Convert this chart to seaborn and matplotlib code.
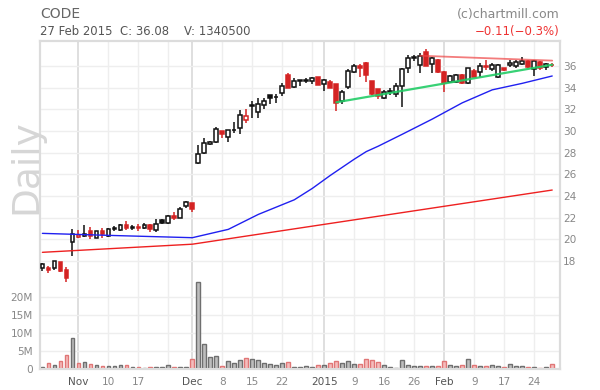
import numpy as np
import pandas as pd
import matplotlib
matplotlib.use("Agg")
import matplotlib.pyplot as plt
import seaborn as sns

# ---------------- data ----------------
opens = [17.32, 17.37, 17.32, 17.87, 17.13, 19.78, 20.24, 20.28, 20.76, 20.15,
         20.76, 20.33, 21.08, 20.86, 21.35, 21.08, 21.16, 21.02, 21.35, 20.86,
         21.78, 21.50, 22.12, 22.00, 23.05, 23.35, 27.02, 27.94, 28.80, 28.95,
         29.97, 29.41, 30.12, 30.25, 30.99, 32.33, 31.75, 32.40, 33.29, 33.10,
         33.48, 35.14, 34.03, 34.71, 34.62, 34.61, 34.95, 34.31, 34.52, 34.34,
         32.77, 34.03, 35.48, 35.97, 36.25, 34.61, 33.85, 33.02, 33.60, 33.44,
         34.15, 35.79, 36.86, 36.12, 37.32, 36.21, 36.55, 35.48, 34.55, 34.55,
         35.17, 34.40, 35.57, 35.42, 36.00, 35.70, 34.95, 35.79, 36.09, 36.00,
         36.18, 36.49, 35.70, 36.40, 35.94, 36.14]
highs = [17.80, 17.56, 18.00, 17.94, 17.47, 20.95, 20.86, 21.32, 21.16, 20.80,
         21.07, 21.00, 21.25, 21.40, 21.72, 21.30, 21.44, 21.55, 21.38, 21.84,
         21.85, 22.20, 22.49, 23.00, 23.53, 23.35, 28.71, 29.32, 29.07, 30.40,
         30.00, 30.10, 30.86, 31.94, 32.03, 32.74, 33.02, 33.07, 33.30, 33.44,
         34.46, 35.38, 34.86, 34.72, 34.86, 34.98, 34.98, 34.80, 34.71, 34.34,
         33.78, 35.72, 36.18, 36.18, 36.40, 34.65, 33.91, 33.78, 34.00, 34.40,
         35.85, 37.02, 37.05, 37.23, 37.54, 36.86, 36.62, 35.50, 35.20, 35.30,
         35.27, 35.85, 35.70, 36.25, 36.55, 36.25, 36.20, 35.85, 36.55, 36.55,
         36.80, 36.55, 36.55, 36.50, 36.31, 36.31]
lows = [17.07, 16.88, 17.20, 17.00, 16.08, 18.49, 20.12, 20.21, 20.06, 20.10,
        20.15, 20.25, 20.80, 20.80, 20.89, 20.85, 20.76, 20.95, 20.67, 20.64,
        21.45, 21.45, 21.75, 21.96, 22.86, 22.49, 26.92, 27.85, 28.71, 28.86,
        29.38, 28.95, 29.84, 29.75, 30.77, 31.17, 31.17, 32.00, 32.46, 32.61,
        33.26, 33.94, 34.00, 34.18, 34.46, 34.31, 34.22, 33.72, 33.94, 31.87,
        32.46, 33.85, 35.32, 35.01, 34.52, 33.32, 32.95, 32.99, 33.32, 33.17,
        32.25, 35.32, 36.46, 35.32, 36.00, 35.32, 35.40, 33.63, 34.45, 34.45,
        34.35, 34.35, 34.95, 35.01, 35.63, 35.50, 34.85, 35.58, 35.94, 35.85,
        36.09, 35.80, 35.10, 35.63, 35.63, 35.90]
closes = [17.69, 17.13, 17.97, 17.10, 16.45, 20.52, 20.43, 20.52, 20.28, 20.76,
          20.46, 20.92, 20.96, 21.29, 21.04, 21.10, 21.00, 21.35, 20.98, 21.41,
          21.50, 22.15, 21.96, 22.80, 23.44, 22.80, 27.87, 28.86, 29.01, 30.15,
          29.69, 30.06, 30.08, 31.45, 31.36, 32.40, 32.45, 32.77, 33.07, 33.14,
          34.18, 33.94, 34.61, 34.63, 34.70, 34.86, 34.22, 34.71, 33.97, 32.61,
          33.57, 35.54, 36.00, 35.80, 35.20, 33.41, 33.23, 33.57, 33.70, 34.12,
          35.72, 36.71, 36.75, 36.92, 36.03, 36.71, 35.48, 34.40, 35.08, 35.20,
          34.40, 35.79, 35.01, 36.00, 35.88, 36.09, 36.12, 35.63, 36.25, 36.37,
          36.46, 35.88, 36.46, 35.79, 36.19, 36.08]
volumes_m = [0.56, 1.67, 1.1, 2.2, 3.9, 8.6, 1.67, 1.95, 1.57, 1.1,
             0.83, 0.83, 0.83, 1.1, 1.1, 0.56, 0.56, 0.37, 0.56, 0.56,
             0.56, 1.1, 0.56, 0.56, 0.56, 2.8, 24.2, 6.9, 3.3, 3.6,
             0.83, 2.2, 1.67, 2.5, 3.05, 2.8, 2.5, 1.67, 1.4, 1.1,
             1.67, 1.95, 0.56, 0.56, 0.83, 0.56, 1.1, 1.1, 1.67, 2.2,
             1.67, 2.2, 1.4, 1.4, 2.8, 2.5, 1.95, 1.1, 0.56, 0.28,
             2.5, 1.1, 0.83, 0.83, 0.83, 0.83, 0.83, 2.2, 1.1, 0.83,
             1.1, 2.8, 1.1, 0.83, 0.83, 1.1, 0.83, 0.56, 1.4, 0.83,
             0.83, 0.56, 0.56, 0.28, 0.56, 1.34]

# moving averages (vertices, bar index -> price)
blue_ma_idx = [0, 12, 25, 31, 36, 42, 45, 48, 52, 54, 56, 60, 65, 70, 75, 80, 85]
blue_ma_val = [20.55, 20.35, 20.15, 20.92, 22.3, 23.65, 24.7, 25.9, 27.4, 28.1,
               28.6, 29.7, 31.1, 32.6, 33.8, 34.4, 35.08]
red_ma_idx = [0, 25, 85]
red_ma_val = [18.8, 19.55, 24.55]
green_trend_idx = [49, 85]
green_trend_val = [32.65, 36.12]
red_trend_idx = [63, 85]
red_trend_val = [36.95, 36.5]

tick_pos = [6, 11, 16, 25, 30, 35, 40, 47, 52, 57, 62, 67, 72, 77, 82]
tick_labels = ["Nov", "10", "17", "Dec", "8", "15", "22", "2015", "9", "16",
               "26", "Feb", "9", "17", "24"]
month_ticks = ["Nov", "Dec", "2015", "Feb"]
extra_grid = [21, 45]
price_ticks = [18, 20, 22, 24, 26, 28, 30, 32, 34, 36]
vol_ticks_m = [0, 5, 10, 15, 20]

# ---------------- figure ----------------
sns.set_style("white")
plt.rcParams['font.family'] = ['DejaVu Sans']

fig = plt.figure(figsize=(6, 3.9), dpi=100)
ax = fig.add_axes([40 / 600, 20.7 / 390, 520 / 600, 328.3 / 390])
ax2 = ax.twinx()

n = len(closes)
idx = np.arange(n)
prev = [closes[0] - 1] + closes[:-1]
up = [c >= p for c, p in zip(closes, prev)]

RED = "#d42323"
col = ["#111111" if u else RED for u in up]
fill = ["white" if c > o else cc for o, c, cc in zip(opens, closes, col)]

# volume
vol = np.array(volumes_m) * 1e6
vfill = ["#bdbdbd" if u else "#f5bcbc" for u in up]
vedge = ["#6f6f6f" if u else "#e07676" for u in up]
ax.bar(idx, vol, width=0.62, color=vfill, edgecolor=vedge, linewidth=1.0, zorder=3)

# grids
for p, lab in zip(tick_pos, tick_labels):
    if lab in month_ticks:
        ax.axvline(p, color="#dcdcdc", lw=1.3, zorder=0)
    else:
        ax.axvline(p, color="#eeeeee", lw=1.0, zorder=0)
for p in extra_grid:
    ax.axvline(p, color="#eeeeee", lw=1.0, zorder=0)
for v in vol_ticks_m[1:]:
    ax.axhline(v * 1e6, color="#eeeeee", lw=1.0, zorder=0)
for p in price_ticks:
    ax2.axhline(p, color="#eeeeee", lw=1.0, zorder=0)

# candles
body_lo = [min(o, c) for o, c in zip(opens, closes)]
body_h = [max(abs(c - o), 0.05) for o, c in zip(opens, closes)]
ax2.vlines(idx, lows, highs, colors=col, linewidth=1.1, zorder=3)
ax2.bar(idx, body_h, bottom=body_lo, width=0.62, color=fill, edgecolor=col,
        linewidth=1.1, zorder=4)

# moving averages and trend lines
sns.lineplot(x=blue_ma_idx, y=blue_ma_val, ax=ax2, color="#2020f0", linewidth=1.0,
             zorder=5, sort=False)
sns.lineplot(x=red_ma_idx, y=red_ma_val, ax=ax2, color="#ee2020", linewidth=1.0,
             zorder=5, sort=False)
sns.lineplot(x=green_trend_idx, y=green_trend_val, ax=ax2, color="#22cc66",
             linewidth=1.6, alpha=0.9, zorder=6, sort=False)
sns.lineplot(x=red_trend_idx, y=red_trend_val, ax=ax2, color="#ee4444",
             linewidth=1.3, alpha=0.7, zorder=6, sort=False)

# limits
ax.set_xlim(-0.4, 86.3)
ax.set_ylim(0, 91.19e6)
ax2.set_ylim(8.0, 38.31)

# ticks
ax.set_xticks(tick_pos)
ax.set_xticklabels(tick_labels)
ax.set_yticks([v * 1e6 for v in vol_ticks_m])
ax.set_yticklabels([("%dM" % v) if v else "0" for v in vol_ticks_m])
ax2.set_yticks(price_ticks)
ax2.set_yticklabels([str(p) for p in price_ticks])
ax.tick_params(axis="x", length=0, pad=5.5, labelsize=7.6, labelcolor="#888888")
ax.tick_params(axis="y", length=0, pad=5, labelsize=7.6, labelcolor="#888888")
ax2.tick_params(axis="y", length=0, pad=2.4, labelsize=7.6, labelcolor="#888888")
for t in ax.get_xticklabels():
    if t.get_text() in month_ticks:
        t.set_color("#555555")
ax.set_xlabel("")
ax.set_ylabel("")
ax2.set_xlabel("")
ax2.set_ylabel("")

for a in (ax, ax2):
    for s in a.spines.values():
        s.set_color("#dcdcdc")
        s.set_linewidth(1.5)

# texts
fig.text(40 / 600, 1 - 14 / 390, "CODE", fontsize=10, color="#666666", va="center")
fig.text(40 / 600, 1 - 31.5 / 390, "27 Feb 2015  C: 36.08    V: 1340500",
         fontsize=8.4, color="#555555", va="center")
fig.text(560 / 600, 1 - 14.5 / 390, "(c)chartmill.com", fontsize=9,
         color="#888888", va="center", ha="right")
fig.text(560 / 600, 1 - 31.5 / 390, "\u22120.11(\u22120.3%)", fontsize=8.5,
         color="#ee3333", va="center", ha="right")
fig.text(26 / 600, 1 - 167 / 390, "Daily", fontsize=27, color="#d6d6d6",
         rotation=90, ha="center", va="center")

fig.savefig("out.png", dpi=100)
